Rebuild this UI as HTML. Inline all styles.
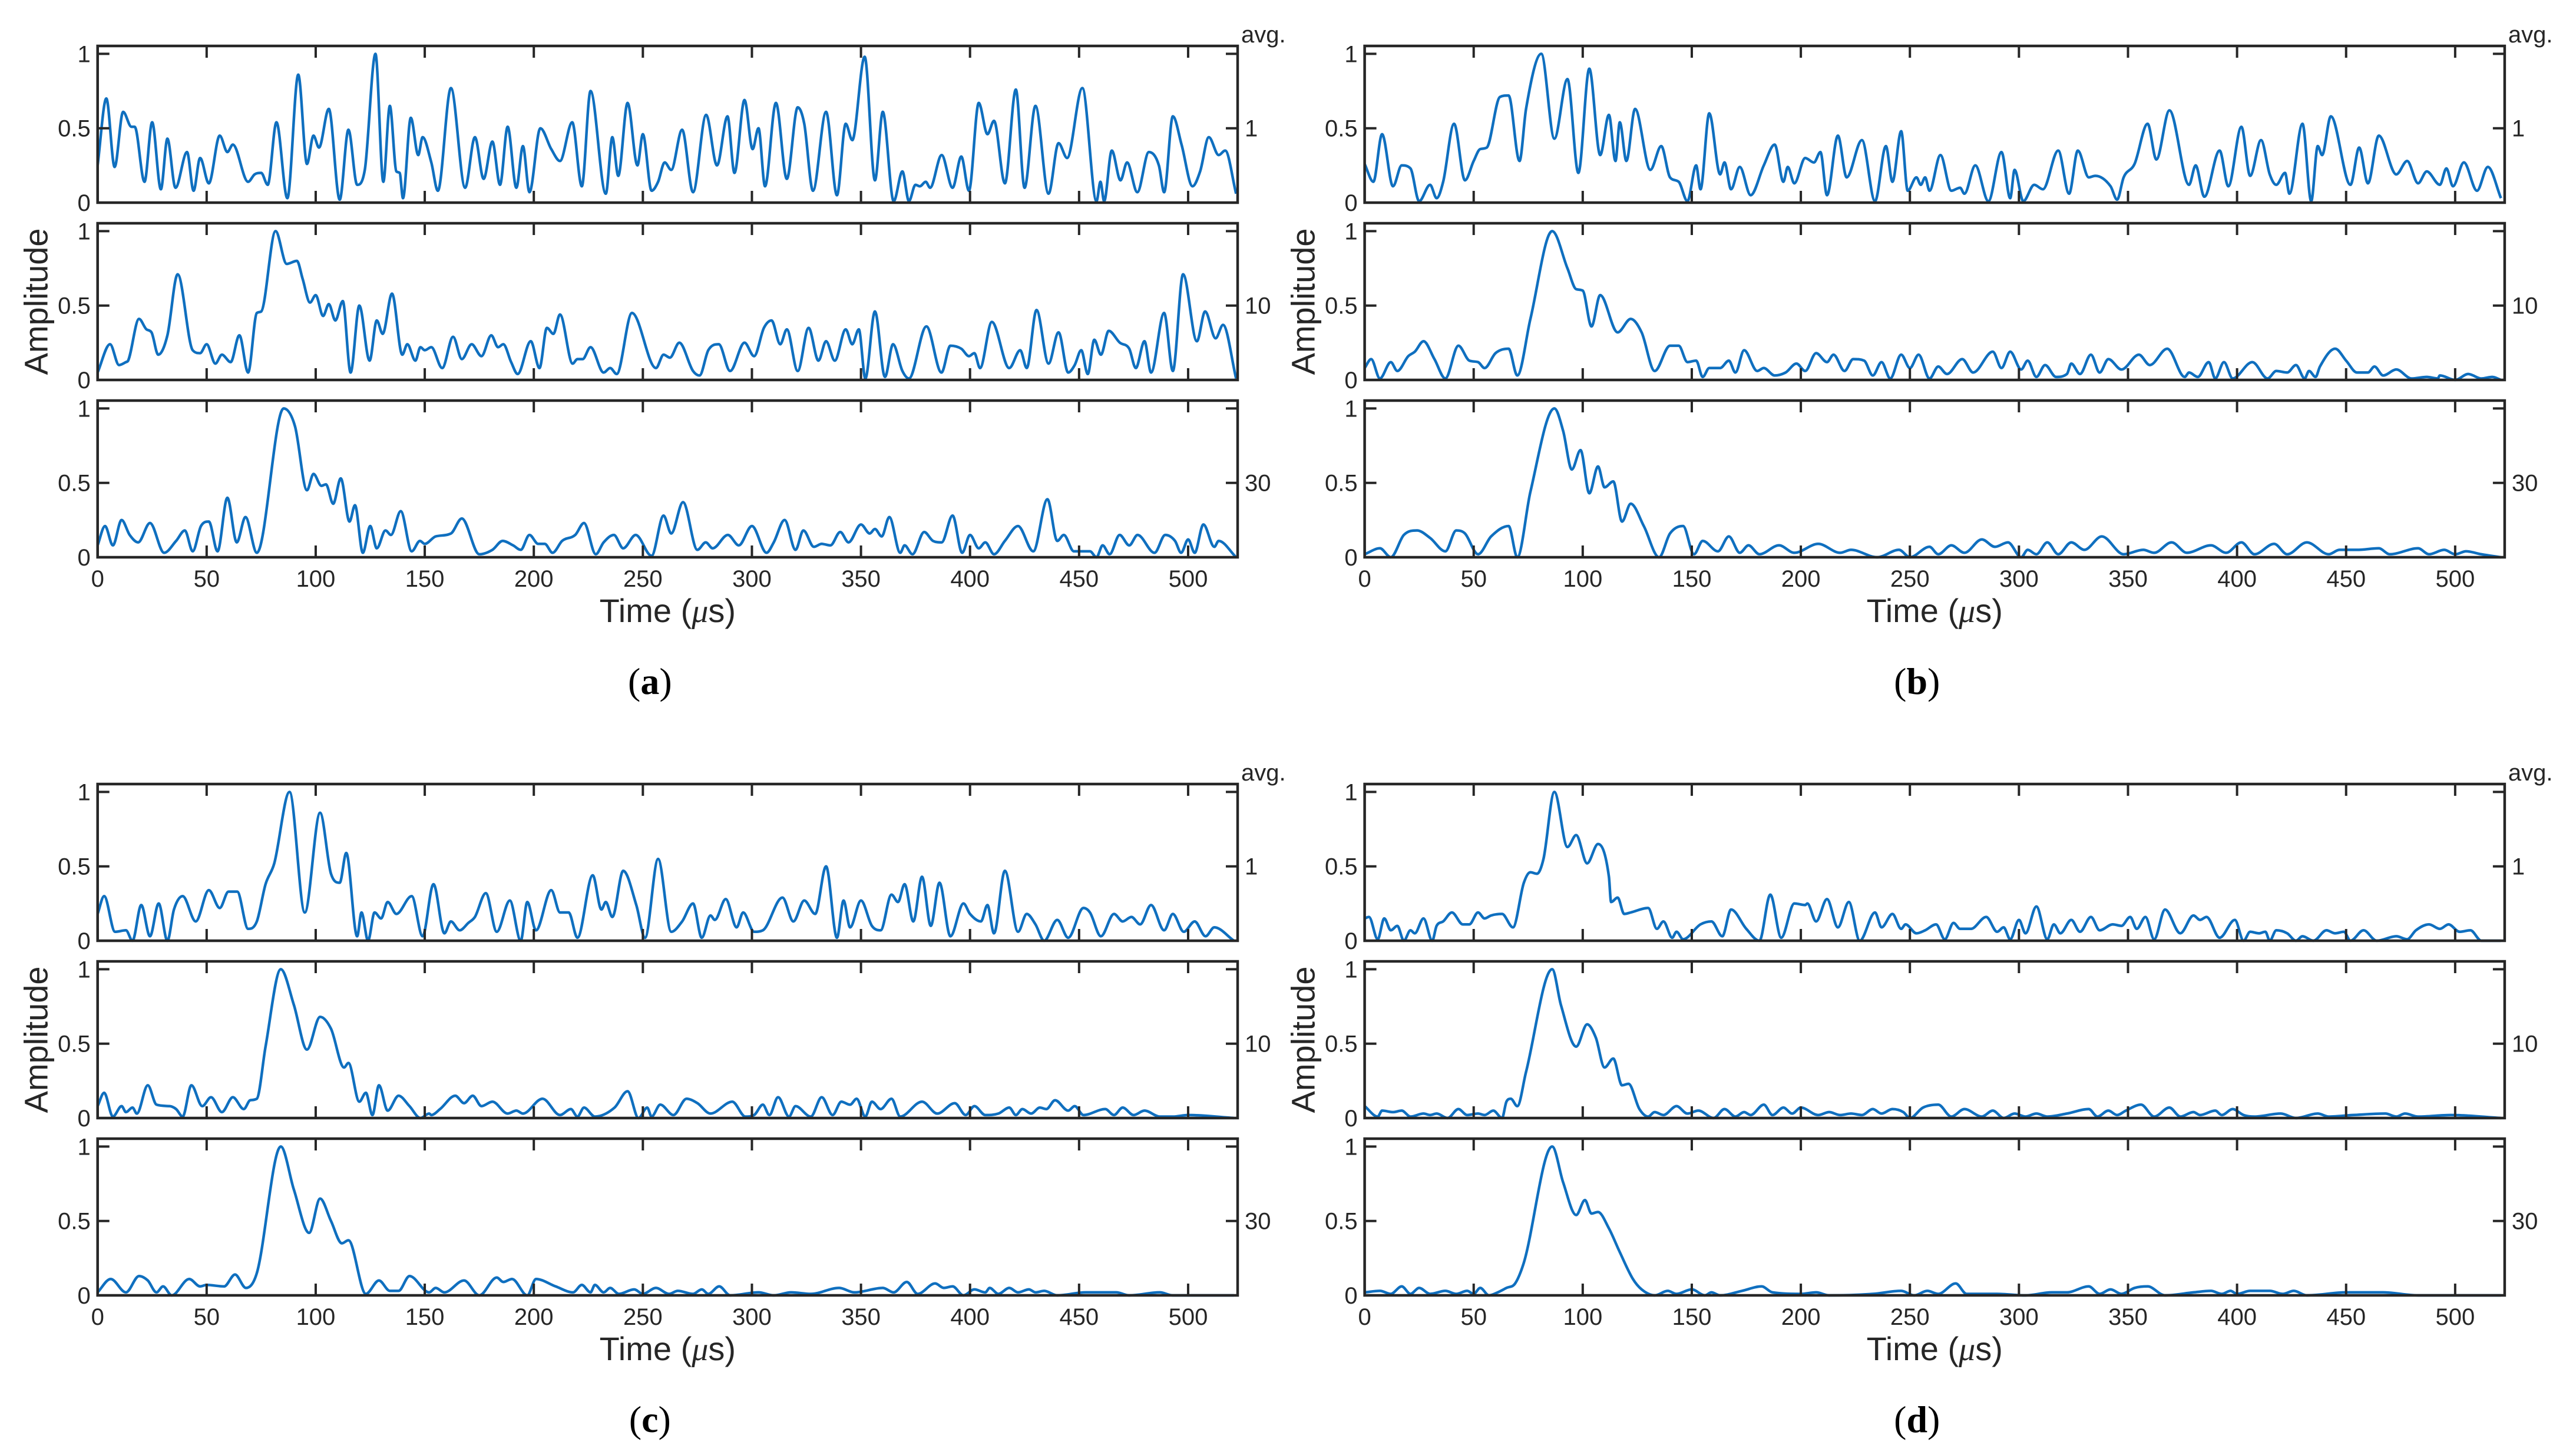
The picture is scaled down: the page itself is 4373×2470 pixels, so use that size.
<!DOCTYPE html>
<html><head><meta charset="utf-8"><style>
html,body{margin:0;padding:0;background:#fff;}
svg{display:block;}
text{font-family:"Liberation Sans",Arial,sans-serif;fill:#262626;}
</style></head>
<body>
<svg id="fig" width="4373" height="2470" viewBox="0 0 4373 2470" xmlns="http://www.w3.org/2000/svg"></svg>
<script>
const xTicks=[0,50,100,150,200,250,300,350,400,450,500];
const yTicks=[0,0.5,1];
const yTickLabels=["0","0.5","1"];
const avgLabels=["1","10","30"];
const panelLetters=["a","b","c","d"];

const tA1=[0,4,7.8,11.7,15.5,17,21.5,25,29,32,35.7,41,44,47,51,56,59.5,62,69,72,75,78,82,87,92,96,99,101.5,106,111,115,119,122.5,127.4,131,134,137,138.5,140,143.6,147,149,153,156,162,168.5,173,177,181,184.5,188,192,195,198,203,208,212,217.6,222,226,233,236,238.7,243,247.5,250,254,257,260,263,268,273,279,284,288.8,292,296.6,300.3,303,306,311,316,321,324,328,334,339,343,346,351.7,356.4,360,365,369,372,375,377,379.7,381.7,387,392,396,399.5,404,408,411,416,421,425,430,436,440.6,444.5,451.5,458,459.8,461.5,465,469,472,476.7,482,486.6,489,493,497,502,505.5,509.5,514,517,522];
const vA1=[0.25,0.70,0.24,0.61,0.51,0.51,0.14,0.54,0.09,0.43,0.10,0.34,0.08,0.30,0.13,0.45,0.34,0.39,0.14,0.19,0.20,0.12,0.54,0.03,0.86,0.26,0.45,0.37,0.63,0.02,0.49,0.12,0.22,1.0,0.14,0.65,0.21,0.20,0.03,0.57,0.32,0.44,0.27,0.08,0.77,0.10,0.44,0.16,0.41,0.12,0.51,0.10,0.38,0.07,0.50,0.36,0.28,0.54,0.11,0.75,0.06,0.44,0.18,0.67,0.25,0.46,0.08,0.14,0.27,0.22,0.49,0.07,0.59,0.25,0.58,0.20,0.69,0.36,0.50,0.11,0.67,0.16,0.64,0.53,0.08,0.61,0.05,0.53,0.42,0.98,0.15,0.61,0.01,0.21,0.01,0.12,0.11,0.14,0.10,0.32,0.10,0.31,0.08,0.67,0.46,0.55,0.13,0.76,0.10,0.65,0.06,0.40,0.30,0.77,0.01,0.14,0.01,0.35,0.15,0.27,0.07,0.34,0.25,0.07,0.58,0.39,0.11,0.21,0.44,0.32,0.35,0.06];

const tA2=[0,5.7,9.8,13,14,19,22.4,24.7,27.8,32,36.7,43.6,47,50,54,57,61,65,69,73,75,81.6,86.7,91.4,94,97.4,100,103.4,106,109,112.4,116,120,124.7,128,130.7,135,139.7,142,145.7,148,150,153,158,163,167,171.5,176,180.5,183.6,186,189.6,192.6,198.6,202.6,206,209,212,217.8,220,222.4,226,232,235,238,245,256,259.5,262.4,266.7,273,276,280,284.8,290,296.6,301,305.5,309,313,316,321,326,330.5,334,338,343,346,349,352,356.4,361,364.7,369,372,380,386.9,391,396,399.5,402,404.6,410,418,423,426,430.5,436,440.6,445,448,451,454,457,460,463.6,468.7,473,476,480,483,489,493,497.7,504,507.8,512.6,516,522];
const vA2=[0.05,0.24,0.10,0.12,0.13,0.41,0.34,0.32,0.17,0.30,0.71,0.20,0.18,0.24,0.11,0.17,0.12,0.30,0.05,0.45,0.46,1.0,0.78,0.80,0.68,0.52,0.57,0.43,0.51,0.40,0.53,0.05,0.50,0.13,0.40,0.31,0.58,0.17,0.24,0.13,0.22,0.20,0.22,0.08,0.29,0.14,0.24,0.16,0.30,0.22,0.24,0.12,0.04,0.26,0.08,0.35,0.31,0.44,0.11,0.14,0.14,0.22,0.05,0.08,0.04,0.45,0.08,0.17,0.15,0.25,0.06,0.03,0.20,0.24,0.06,0.25,0.16,0.35,0.40,0.24,0.34,0.06,0.35,0.13,0.26,0.13,0.34,0.24,0.34,0.01,0.46,0.02,0.24,0.06,0.01,0.36,0.05,0.23,0.21,0.16,0.18,0.08,0.39,0.08,0.20,0.08,0.47,0.11,0.32,0.05,0.10,0.20,0.04,0.27,0.17,0.33,0.25,0.21,0.08,0.26,0.05,0.45,0.06,0.71,0.26,0.46,0.28,0.37,0.01];

const tA3=[0,3.4,7,11,14.7,18.6,24,30.5,36,40,43.6,47.4,51,55,59.5,63.8,67.8,73,85.3,90.5,96,99,102.6,104.7,108,111.5,115.5,118,121.6,125,128,132,134.5,139,144,147.8,150,155,162,167,175,181,185.7,190.5,194,198,202,205,208.6,213,219,223,228.4,232,236.7,241,246.7,254,259.5,263,268.4,275,278.8,282,289,294,300,306.7,310,315,320,323.6,328.4,332,336,340.5,344.3,350,354,356.4,359.5,363,368,370,373.6,379,383,387,392,396.4,400,404,407,411,416,422,429,435.5,440,443,447.6,455,458,460.8,464,468.6,473,476.8,484.6,489.5,494,496.8,500,503,507,512,514,522];
const vA3=[0.08,0.21,0.08,0.25,0.15,0.10,0.23,0.03,0.11,0.18,0.04,0.21,0.24,0.04,0.40,0.10,0.27,0.03,1.0,0.88,0.45,0.56,0.48,0.49,0.36,0.53,0.24,0.35,0.03,0.21,0.06,0.18,0.15,0.31,0.04,0.11,0.09,0.14,0.16,0.26,0.02,0.05,0.11,0.08,0.05,0.15,0.09,0.09,0.03,0.11,0.15,0.23,0.02,0.10,0.15,0.06,0.15,0.01,0.28,0.16,0.37,0.05,0.10,0.06,0.15,0.08,0.21,0.03,0.10,0.25,0.05,0.18,0.07,0.09,0.08,0.17,0.10,0.22,0.16,0.19,0.14,0.27,0.03,0.08,0.02,0.17,0.11,0.10,0.28,0.03,0.15,0.06,0.10,0.02,0.11,0.21,0.04,0.39,0.11,0.15,0.04,0.04,0.00,0.08,0.02,0.15,0.08,0.15,0.03,0.15,0.11,0.03,0.12,0.03,0.22,0.07,0.11,0.00];

const tB1=[0,4,8,13,17,21,25,30,33,36,41,46,50,53,56,62,66,71,74,81,87,93,98,103,108,112,115,117,120,124,131,136,140,144,148,152,154,158,163,165,168,172,177,183,188,192,194,197,202,206,209,212,217,221,228,234,239,242,246,249,253,255,257,259,264,269,273,275,280,286,292,296,298,302,307,311,318,323,327,332,335,342,345,348,353,359,363,369,378,381,385,392,396,402,406,411,415,418,422,424,430,434,437,439,443,452,456,460,465,473,478,483,487,493,496,499,504,510,515,521];
const vB1=[0.26,0.14,0.46,0.11,0.25,0.23,0.01,0.12,0.03,0.14,0.53,0.15,0.28,0.36,0.37,0.71,0.72,0.28,0.63,1.0,0.43,0.83,0.20,0.90,0.32,0.59,0.28,0.54,0.28,0.63,0.22,0.38,0.17,0.14,0.01,0.25,0.09,0.60,0.19,0.27,0.09,0.24,0.05,0.25,0.39,0.14,0.24,0.13,0.30,0.27,0.34,0.05,0.45,0.17,0.42,0.01,0.38,0.14,0.48,0.08,0.17,0.12,0.17,0.08,0.32,0.08,0.10,0.06,0.25,0.01,0.34,0.03,0.22,0.01,0.12,0.09,0.35,0.06,0.35,0.17,0.18,0.11,0.02,0.17,0.26,0.53,0.29,0.62,0.12,0.25,0.04,0.35,0.11,0.51,0.18,0.42,0.19,0.12,0.20,0.06,0.53,0.01,0.38,0.32,0.58,0.12,0.37,0.13,0.45,0.19,0.28,0.13,0.21,0.12,0.23,0.11,0.27,0.08,0.24,0.03];

const tB2=[0,3,7,12,15,20,23,27,32,37,43,48,52,55,60,66,70,76,86,93,97,100,104,108,116,122,127,133,140,144,148,152,155,158,163,167,170,174,180,183,188,193,198,202,207,212,215,220,224,229,233,237,241,246,250,254,259,263,267,274,279,288,292,296,301,304,308,312,317,322,324,328,333,337,341,347,355,360,368,376,378,382,387,390,394,398,407,414,418,423,427,431,433,436,438,445,450,455,460,463,467,473,480,487,492,493,500,506,512,517,521];
const vB2=[0.08,0.14,0.01,0.12,0.06,0.16,0.19,0.26,0.14,0.01,0.23,0.13,0.12,0.08,0.18,0.21,0.03,0.41,1.0,0.75,0.61,0.60,0.36,0.57,0.32,0.41,0.32,0.06,0.23,0.23,0.12,0.13,0.02,0.08,0.08,0.13,0.05,0.20,0.06,0.08,0.03,0.05,0.11,0.06,0.18,0.12,0.17,0.06,0.14,0.13,0.03,0.12,0.01,0.17,0.08,0.17,0.01,0.09,0.04,0.14,0.05,0.19,0.08,0.19,0.07,0.13,0.02,0.10,0.02,0.04,0.11,0.04,0.17,0.05,0.14,0.07,0.17,0.10,0.21,0.02,0.05,0.02,0.12,0.01,0.12,0.01,0.12,0.01,0.06,0.05,0.10,0.01,0.06,0.02,0.09,0.21,0.13,0.05,0.05,0.09,0.03,0.07,0.01,0.02,0.01,0.03,0.0,0.04,0.01,0.02,0.0];

const tB3=[0,7,12,18,24,30,37,42,46,52,58,66,70,76,87,91,95,99,103,107,110,114,118,122,128,135,140,146,151,155,162,167,172,176,181,190,197,208,218,223,235,245,250,259,263,269,275,283,289,295,301,304,308,313,318,324,330,338,348,357,362,370,377,388,395,402,408,417,423,432,442,447,455,465,470,483,488,495,500,505,512,521];
const vB3=[0.02,0.06,0.0,0.15,0.18,0.13,0.04,0.18,0.16,0.02,0.14,0.21,0.0,0.44,1.0,0.85,0.59,0.72,0.43,0.61,0.47,0.51,0.24,0.36,0.21,0.0,0.16,0.21,0.02,0.11,0.04,0.14,0.03,0.08,0.02,0.08,0.03,0.09,0.03,0.05,0.0,0.05,0.0,0.07,0.02,0.08,0.03,0.12,0.07,0.10,0.0,0.05,0.02,0.10,0.02,0.10,0.05,0.14,0.02,0.05,0.03,0.10,0.03,0.08,0.03,0.10,0.02,0.09,0.02,0.10,0.02,0.05,0.05,0.06,0.02,0.06,0.02,0.05,0.02,0.04,0.02,0.0];

const tC1=[0,3,8,13,16,20,24,28,32,35,39,45,51,56,60,64,69,73,77,81,88,95,102,107,111,114,119,121,124,127,130,133,137,144,149,154,159,162,166,170,173,178,183,189,194,197,201,208,212,216,220,227,231,233,236,241,247,251,257,263,268,273,277,281,283,288,293,296,301,305,314,319,324,329,334,339,342,345,350,355,359,364,367,370,374,378,382,386,391,397,400,405,408,411,416,422,426,430,434,440,445,452,455,460,466,470,474,478,483,489,493,498,503,508,512,521];
const vC1=[0.18,0.30,0.06,0.07,0.0,0.24,0.03,0.25,0.0,0.21,0.30,0.13,0.34,0.22,0.33,0.33,0.08,0.13,0.38,0.52,1.0,0.19,0.86,0.45,0.39,0.59,0.03,0.19,0.0,0.19,0.15,0.26,0.18,0.30,0.03,0.38,0.05,0.13,0.07,0.12,0.16,0.32,0.06,0.27,0.0,0.26,0.07,0.34,0.19,0.19,0.02,0.44,0.21,0.26,0.16,0.47,0.24,0.02,0.55,0.06,0.13,0.25,0.02,0.17,0.14,0.28,0.09,0.19,0.06,0.07,0.29,0.13,0.27,0.18,0.50,0.02,0.27,0.09,0.27,0.10,0.07,0.31,0.26,0.38,0.13,0.43,0.10,0.39,0.03,0.25,0.18,0.13,0.24,0.05,0.47,0.06,0.18,0.11,0.0,0.14,0.02,0.22,0.19,0.03,0.18,0.13,0.16,0.11,0.24,0.07,0.18,0.06,0.13,0.03,0.09,0.0];

const tC2=[0,3,7,11,13,16,18,23,27,33,36,39,43,48,52,57,62,67,70,73,77,84,90,96,102,107,113,115,120,123,126,129,133,138,143,148,152,153,157,164,168,172,176,181,188,192,195,204,212,217,220,223,228,237,243,248,252,254,258,264,270,275,281,291,297,301,305,308,312,317,320,327,332,337,341,345,348,352,355,359,364,368,378,385,393,398,402,407,413,418,421,424,428,432,435,439,445,448,452,462,466,470,475,480,487,493,500,521];
const vC2=[0.08,0.17,0.01,0.08,0.04,0.07,0.03,0.22,0.09,0.08,0.06,0.01,0.22,0.08,0.14,0.04,0.14,0.06,0.12,0.13,0.48,1.0,0.76,0.46,0.68,0.60,0.34,0.37,0.11,0.17,0.02,0.22,0.05,0.15,0.08,0.0,0.03,0.02,0.06,0.15,0.10,0.15,0.08,0.11,0.03,0.05,0.03,0.13,0.02,0.06,0.01,0.07,0.01,0.07,0.18,0.0,0.07,0.01,0.09,0.02,0.13,0.10,0.03,0.11,0.01,0.02,0.09,0.02,0.14,0.01,0.08,0.01,0.14,0.02,0.11,0.09,0.13,0.01,0.11,0.06,0.13,0.01,0.11,0.03,0.10,0.02,0.08,0.02,0.03,0.07,0.02,0.06,0.03,0.07,0.06,0.12,0.05,0.08,0.02,0.06,0.02,0.07,0.02,0.05,0.01,0.01,0.02,0.0];

const tC3=[0,6,13,19,23,27,30,34,42,47,50,58,63,68,73,84,90,97,102,107,112,115,123,129,134,138,143,152,155,159,168,175,183,186,190,197,201,210,218,222,226,228,232,235,239,246,250,256,262,266,273,277,280,285,290,303,310,318,327,340,347,360,365,371,376,384,388,392,397,402,407,409,413,418,422,427,430,434,440,453,467,473,487,493,521];
const vC3=[0.02,0.11,0.02,0.13,0.10,0.02,0.06,0.0,0.11,0.06,0.07,0.06,0.14,0.05,0.15,1.0,0.71,0.42,0.65,0.50,0.35,0.37,0.01,0.10,0.03,0.03,0.13,0.02,0.05,0.02,0.10,0.0,0.12,0.09,0.11,0.0,0.11,0.06,0.02,0.07,0.02,0.07,0.02,0.05,0.01,0.04,0.01,0.05,0.01,0.03,0.01,0.04,0.01,0.06,0.0,0.02,0.0,0.02,0.01,0.05,0.02,0.05,0.02,0.09,0.01,0.08,0.05,0.06,0.0,0.04,0.02,0.05,0.01,0.05,0.02,0.04,0.02,0.03,0.0,0.02,0.02,0.0,0.02,0.0,0.0];

const tD1=[0,2,6,9,12,15,18,21,23,27,31,33,36,40,45,48,52,55,58,63,68,73,76,79,82,87,93,97,102,107,112,113,116,119,122,130,134,137,141,143,146,154,159,164,168,175,181,186,191,197,202,203,207,212,217,222,227,234,237,242,246,248,253,257,262,266,270,273,278,285,290,293,296,300,303,308,313,316,319,324,328,333,337,343,347,351,354,358,362,367,374,380,383,386,392,399,403,406,410,413,415,418,423,427,430,435,441,445,449,452,458,464,473,478,482,488,493,497,502,507,512,521];
const vD1=[0.15,0.16,0.01,0.15,0.07,0.10,0.0,0.07,0.05,0.15,0.0,0.10,0.13,0.19,0.11,0.11,0.19,0.15,0.17,0.18,0.09,0.39,0.46,0.45,0.55,1.0,0.63,0.71,0.52,0.65,0.43,0.26,0.29,0.18,0.19,0.22,0.08,0.13,0.02,0.06,0.01,0.11,0.13,0.03,0.21,0.08,0.0,0.31,0.02,0.25,0.24,0.25,0.13,0.28,0.09,0.26,0.0,0.19,0.09,0.18,0.08,0.11,0.05,0.07,0.11,0.01,0.12,0.08,0.08,0.16,0.06,0.09,0.01,0.14,0.05,0.23,0.01,0.11,0.05,0.14,0.06,0.16,0.07,0.11,0.10,0.16,0.08,0.16,0.01,0.21,0.05,0.17,0.14,0.16,0.02,0.14,0.0,0.06,0.05,0.06,0.0,0.07,0.05,0.0,0.03,0.0,0.07,0.05,0.06,0.0,0.07,0.0,0.03,0.01,0.07,0.11,0.08,0.11,0.06,0.07,0.0,0.0];

const tD2=[0,6,8,13,17,21,27,30,33,38,43,47,52,55,59,63,65,67,70,74,86,90,97,102,106,110,114,118,121,126,130,133,137,143,148,153,160,165,170,174,177,183,187,192,196,200,208,213,218,223,228,233,237,242,247,250,256,263,269,275,283,288,293,298,303,308,313,322,332,336,341,345,349,356,362,369,374,380,383,390,393,398,403,408,420,427,437,442,453,468,473,477,483,498,521];
const vD2=[0.08,0.01,0.05,0.04,0.05,0.01,0.03,0.02,0.03,0.0,0.06,0.02,0.03,0.02,0.05,0.0,0.11,0.13,0.08,0.31,1.0,0.76,0.48,0.63,0.54,0.34,0.40,0.22,0.23,0.06,0.01,0.04,0.02,0.08,0.03,0.05,0.0,0.06,0.01,0.04,0.02,0.09,0.02,0.07,0.03,0.07,0.02,0.04,0.02,0.03,0.02,0.06,0.03,0.06,0.04,0.0,0.07,0.09,0.01,0.06,0.01,0.05,0.0,0.03,0.01,0.03,0.01,0.03,0.06,0.01,0.05,0.02,0.05,0.09,0.01,0.07,0.01,0.04,0.02,0.05,0.02,0.06,0.02,0.01,0.03,0.0,0.03,0.01,0.02,0.03,0.01,0.03,0.01,0.02,0.0];

const tD3=[0,7,12,17,21,25,30,37,42,47,50,53,57,61,65,69,73,86,91,97,101,104,107,112,117,123,127,133,139,143,150,156,159,163,173,182,187,200,207,213,233,246,252,258,263,271,276,290,303,315,322,332,337,342,347,353,359,367,380,388,393,397,400,406,415,421,426,432,450,467,483,521];
const vD3=[0.02,0.03,0.01,0.06,0.01,0.05,0.01,0.03,0.01,0.03,0.01,0.05,0.0,0.02,0.05,0.08,0.22,1.0,0.76,0.54,0.64,0.55,0.56,0.45,0.29,0.11,0.04,0.0,0.03,0.01,0.04,0.0,0.02,0.0,0.03,0.06,0.02,0.01,0.02,0.0,0.01,0.03,0.0,0.03,0.01,0.08,0.01,0.01,0.0,0.02,0.02,0.06,0.01,0.04,0.01,0.05,0.06,0.0,0.02,0.03,0.01,0.03,0.01,0.03,0.03,0.01,0.03,0.0,0.02,0.02,0.0,0.0];

const seriesT=[[tA1,tA2,tA3],[tB1,tB2,tB3],[tC1,tC2,tC3],[tD1,tD2,tD3]];
const seriesV=[[vA1,vA2,vA3],[vB1,vB2,vB3],[vC1,vC2,vC3],[vD1,vD2,vD3]];

const NS="http://www.w3.org/2000/svg";
const svg=document.getElementById('fig');
const X0s=[165.7,2316.6,165.7,2316.6];
const Y0s=[78,78,1331,1331];
const PW=1935.3, XMAX=522.7, SH=266, SP=301, YMAX=1.053;
const AX="#262626", LC="#0f6fbf";
function el(tag,attrs,parent){const e=document.createElementNS(NS,tag);for(const k in attrs)e.setAttribute(k,attrs[k]);(parent||svg).appendChild(e);return e;}
function monoPath(xs,ys){
  const n=xs.length;if(n<2)return"";
  const d=[],m=[];
  for(let i=0;i<n-1;i++){d.push((ys[i+1]-ys[i])/(xs[i+1]-xs[i]));}
  m[0]=d[0];m[n-1]=d[n-2];
  for(let i=1;i<n-1;i++){m[i]=(d[i-1]*d[i]<=0)?0:(d[i-1]+d[i])/2;}
  for(let i=0;i<n-1;i++){if(d[i]===0){m[i]=0;m[i+1]=0;continue;}const a=m[i]/d[i],b=m[i+1]/d[i],s=a*a+b*b;if(s>9){const t=3/Math.sqrt(s);m[i]=t*a*d[i];m[i+1]=t*b*d[i];}}
  let p="M"+xs[0].toFixed(1)+","+ys[0].toFixed(1);
  for(let i=0;i<n-1;i++){const h=(xs[i+1]-xs[i])/3;p+=" C"+(xs[i]+h).toFixed(1)+","+(ys[i]+m[i]*h).toFixed(1)+" "+(xs[i+1]-h).toFixed(1)+","+(ys[i+1]-m[i+1]*h).toFixed(1)+" "+xs[i+1].toFixed(1)+","+ys[i+1].toFixed(1);}
  return p;
}
for(let p=0;p<4;p++){
  const X0=X0s[p],Y0=Y0s[p];
  const g=el('g',{});
  
  
  const xs=t=>X0+t/XMAX*PW;
  for(let s=0;s<3;s++){
    const top=Y0+s*SP,bot=top+SH;
    const ys=v=>bot-v/YMAX*SH;
    const sg=el('g',{},g);
    
    
    const clipId='c'+p+s;
    const cp=el('clipPath',{id:clipId},sg);
    el('rect',{x:X0,y:top-4,width:PW,height:SH+8},cp);
    const T=seriesT[p][s],V=seriesV[p][s];
    const line=el('path',{d:monoPath(T.map(xs),V.map(v=>ys(Math.max(0,v)))),fill:'none',stroke:LC,'stroke-width':4.5,'stroke-linejoin':'round','clip-path':'url(#'+clipId+')'},sg);
    
    
    for(const t of xTicks){
      const x=xs(t);
      el('line',{x1:x,y1:bot,x2:x,y2:bot-20,stroke:AX,'stroke-width':4},sg);
      el('line',{x1:x,y1:top,x2:x,y2:top+20,stroke:AX,'stroke-width':4},sg);
    }
    yTicks.forEach((v,i)=>{
      const y=ys(v);
      el('line',{x1:X0,y1:y,x2:X0+20,y2:y,stroke:AX,'stroke-width':4},sg);
      el('line',{x1:X0+PW,y1:y,x2:X0+PW-20,y2:y,stroke:AX,'stroke-width':4},sg);
      const tl=el('text',{x:X0-12,y:y+14,'font-size':40,'text-anchor':'end'},sg);
      tl.textContent=yTickLabels[i];
      
      
    });
    const box=el('rect',{x:X0,y:top,width:PW,height:SH,fill:'none',stroke:AX,'stroke-width':4.5},sg);
    
    
    const al=el('text',{x:X0+PW+12,y:ys(0.5)+14,'font-size':40},sg);
    al.textContent=avgLabels[s];
    
    
    if(s===2){
      for(const t of xTicks){
        const xl=el('text',{x:xs(t),y:bot+50,'font-size':40,'text-anchor':'middle'},sg);
        xl.textContent=String(t);
        
        
      }
    }
  }
  const avg=el('text',{x:X0+PW+6,y:Y0-6,'font-size':40},g);
  avg.textContent='avg.';
  
  
  const amp=el('text',{x:0,y:0,'font-size':56,'text-anchor':'middle',transform:'translate('+(X0-85)+','+(Y0+SP+SH/2)+') rotate(-90)'},g);
  amp.textContent='Amplitude';
  
  
  const xt=el('text',{x:X0+PW/2,y:Y0+2*SP+SH+110,'font-size':56,'text-anchor':'middle'},g);
  
  
  xt.appendChild(document.createTextNode('Time ('));
  const mu=el('tspan',{style:'font-style:italic;font-family:"Liberation Serif",serif'},xt);mu.textContent='μ';
  xt.appendChild(document.createTextNode('s)'));
  const pl=el('text',{x:X0+PW/2-30,y:Y0+2*SP+SH+232,'font-size':64,'text-anchor':'middle',style:'font-family:"Liberation Serif",serif;fill:#000'},g);
  
  
  pl.appendChild(document.createTextNode('('));
  const b=el('tspan',{'font-weight':'bold'},pl);b.textContent=panelLetters[p];
  pl.appendChild(document.createTextNode(')'));
}
</script>
</body></html>
